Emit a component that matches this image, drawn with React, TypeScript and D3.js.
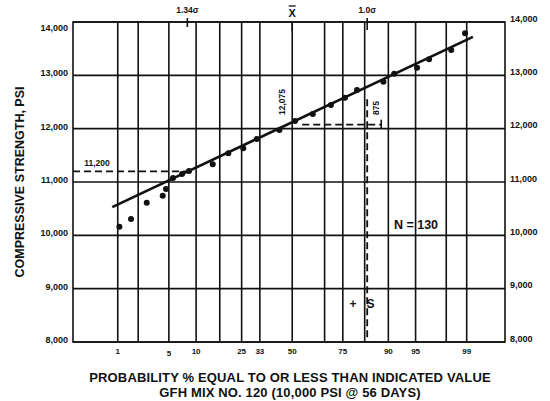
import React from "react";
import * as d3 from "d3";

// ---- data ----
const probGrid = [1, 2, 5, 10, 16.7, 25, 33.3, 50, 66.7, 75, 83.3, 90, 95, 98, 99];
const probTicks = [1, 5, 10, 25, 33.3, 50, 75, 90, 95, 99];
const probTickLabels = ["1", "5", "10", "25", "33", "50", "75", "90", "95", "99"];
const psiTicks = [8000, 9000, 10000, 11000, 12000, 13000, 14000];
const pointProb = [1.06, 1.58, 2.62, 4.21, 4.62, 5.6, 7.09, 8.44, 14.46, 19.7, 25.7, 31.8, 43.2, 51.5, 60.8, 69.7, 75.9, 80.6, 88.8, 91.3, 95.2, 96.6, 98.3, 98.94];
const pointPsi = [10162, 10306, 10612, 10744, 10869, 11075, 11150, 11206, 11331, 11538, 11632, 11806, 11975, 12144, 12275, 12444, 12581, 12725, 12881, 13030, 13144, 13300, 13475, 13788];
const fitProb = [0.82, 99.2];
const fitPsi = [10530, 13720];
const lowValue = 11200;
const lowProb = 8.1; // 1.34 sigma
const meanValue = 12075;
const meanProb = 50;
const sigmaProb = 84.13; // +1.0 sigma
const sigmaTopPsi = 12550;

// inverse normal CDF (Acklam)
function probit(p: number): number {
  const a = [-3.969683028665376e1, 2.209460984245205e2, -2.759285104469687e2, 1.38357751867269e2, -3.066479806614716e1, 2.506628277459239];
  const b = [-5.447609879822406e1, 1.615858368580409e2, -1.556989798598866e2, 6.680131188771972e1, -1.328068155288572e1];
  const c = [-7.784894002430293e-3, -3.223964580411365e-1, -2.400758277161838, -2.549732539343734, 4.374664141464968, 2.938163982698783];
  const d = [7.784695709041462e-3, 3.224671290700398e-1, 2.445134137142996, 3.754408661907416];
  const pl = 0.02425;
  if (p < pl) {
    const q = Math.sqrt(-2 * Math.log(p));
    return (((((c[0] * q + c[1]) * q + c[2]) * q + c[3]) * q + c[4]) * q + c[5]) / ((((d[0] * q + d[1]) * q + d[2]) * q + d[3]) * q + 1);
  }
  if (p <= 1 - pl) {
    const q = p - 0.5;
    const r = q * q;
    return ((((((a[0] * r + a[1]) * r + a[2]) * r + a[3]) * r + a[4]) * r + a[5]) * q) / (((((b[0] * r + b[1]) * r + b[2]) * r + b[3]) * r + b[4]) * r + 1);
  }
  const q = Math.sqrt(-2 * Math.log(1 - p));
  return -(((((c[0] * q + c[1]) * q + c[2]) * q + c[3]) * q + c[4]) * q + c[5]) / ((((d[0] * q + d[1]) * q + d[2]) * q + d[3]) * q + 1);
}

const W = 550;
const H = 401;
const left = 73;
const right = 505;
const top = 22;
const bottom = 342;

const zScale = d3.scaleLinear().domain([-2.923, 2.837]).range([left, right]);
const x = (p: number) => zScale(probit(p / 100));
const y = d3.scaleLinear().domain([8000, 14000]).range([bottom, top]);

const FONT = "'Liberation Sans', Arial, Helvetica, sans-serif";

export default function App() {
  const fitLine = d3.line<number>().x((_, i) => x(fitProb[i])).y((v) => y(v))(fitPsi) || "";
  const dash = "7,4";
  const sx = x(sigmaProb);
  return (
    <svg width={W} height={H} style={{ position: "absolute", left: 0, top: 0, background: "#fff" }} fontFamily={FONT} fontWeight="bold">
      <rect x={0} y={0} width={W} height={H} fill="#fff" />
      {/* grid */}
      {psiTicks.map((t) => (
        <line key={"h" + t} x1={left} x2={right} y1={y(t)} y2={y(t)} stroke="#111" strokeWidth={1.6} />
      ))}
      {probGrid.map((p) => (
        <line key={"v" + p} x1={x(p)} x2={x(p)} y1={top} y2={bottom} stroke="#111" strokeWidth={1.6} />
      ))}
      <rect x={left} y={top} width={right - left} height={bottom - top} fill="none" stroke="#111" strokeWidth={1.6} />

      {/* y tick labels */}
      {psiTicks.map((t) => (
        <text key={"yl" + t} x={68} y={Math.max(y(t) - 2, 28)} fontSize={9} textAnchor="end" dominantBaseline="central" fill="#111">
          {d3.format(",")(t)}
        </text>
      ))}
      {psiTicks.map((t) => (
        <text key={"yr" + t} x={510} y={y(t) - 3.5} fontSize={9} textAnchor="start" dominantBaseline="central" fill="#111">
          {d3.format(",")(t)}
        </text>
      ))}
      {/* x tick labels */}
      {probTicks.map((p, i) => (
        <text key={"xl" + p} x={x(p)} y={351 + (p === 5 ? 2 : 0)} fontSize={8} textAnchor="middle" dominantBaseline="central" fill="#111">
          {probTickLabels[i]}
        </text>
      ))}

      {/* dashed references */}
      <line x1={left} x2={x(lowProb)} y1={y(lowValue)} y2={y(lowValue)} stroke="#111" strokeWidth={1.8} strokeDasharray={dash} />
      <line x1={x(meanProb) + 10} x2={sx + 14} y1={y(meanValue)} y2={y(meanValue)} stroke="#111" strokeWidth={1.8} strokeDasharray={dash} />
      <line x1={sx} x2={sx} y1={y(sigmaTopPsi)} y2={bottom} stroke="#111" strokeWidth={1.8} strokeDasharray={dash} />
      <line x1={sx + 14} x2={sx + 14} y1={y(meanValue) - 5} y2={y(meanValue) + 4} stroke="#111" strokeWidth={1.6} />

      {/* fit line */}
      <path d={fitLine} fill="none" stroke="#111" strokeWidth={2.6} />
      {/* points */}
      {pointPsi.map((v, i) => (
        <circle key={"pt" + i} cx={x(pointProb[i])} cy={y(v)} r={3} fill="#111" />
      ))}

      {/* annotations */}
      <text x={97} y={163} fontSize={8.5} textAnchor="middle" dominantBaseline="central" fill="#111">11,200</text>
      <text transform={`translate(282,102) rotate(-90)`} fontSize={8.5} textAnchor="middle" dominantBaseline="central" fill="#111">12,075</text>
      <text transform={`translate(376,108) rotate(-90)`} fontSize={8.5} textAnchor="middle" dominantBaseline="central" fill="#111">875</text>
      <text x={362} y={304} fontSize={12} textAnchor="middle" dominantBaseline="central" fill="#111" xmlSpace="preserve">+   S</text>
      <text x={416} y={225} fontSize={12.5} textAnchor="middle" dominantBaseline="central" fill="#111">N = 130</text>

      {/* top markers */}
      <line x1={x(lowProb)} x2={x(lowProb)} y1={18} y2={27} stroke="#111" strokeWidth={1.6} />
      <text x={x(lowProb)} y={10} fontSize={8.5} textAnchor="middle" dominantBaseline="central" fill="#111">1.34σ</text>
      <line x1={x(meanProb)} x2={x(meanProb)} y1={22} y2={31} stroke="#111" strokeWidth={1.6} />
      <text x={x(meanProb)} y={13} fontSize={11} textAnchor="middle" dominantBaseline="central" fill="#111">X</text>
      <line x1={x(meanProb) - 3.5} x2={x(meanProb) + 3.5} y1={6} y2={6} stroke="#111" strokeWidth={1.3} />
      <line x1={sx} x2={sx} y1={18} y2={30} stroke="#111" strokeWidth={1.6} />
      <text x={sx} y={10} fontSize={8.5} textAnchor="middle" dominantBaseline="central" fill="#111">1.0σ</text>

      {/* titles */}
      <text transform={`translate(20,${(top + bottom) / 2}) rotate(-90)`} fontSize={12.5} textAnchor="middle" dominantBaseline="central" fill="#111">
        COMPRESSIVE STRENGTH, PSI
      </text>
      <text x={290} y={377} fontSize={13} letterSpacing={0.15} textAnchor="middle" dominantBaseline="central" fill="#111">
        PROBABILITY % EQUAL TO OR LESS THAN INDICATED VALUE
      </text>
      <text x={290} y={392} fontSize={13} letterSpacing={0.15} textAnchor="middle" dominantBaseline="central" fill="#111">
        GFH MIX NO. 120 (10,000 PSI @ 56 DAYS)
      </text>
    </svg>
  );
}
